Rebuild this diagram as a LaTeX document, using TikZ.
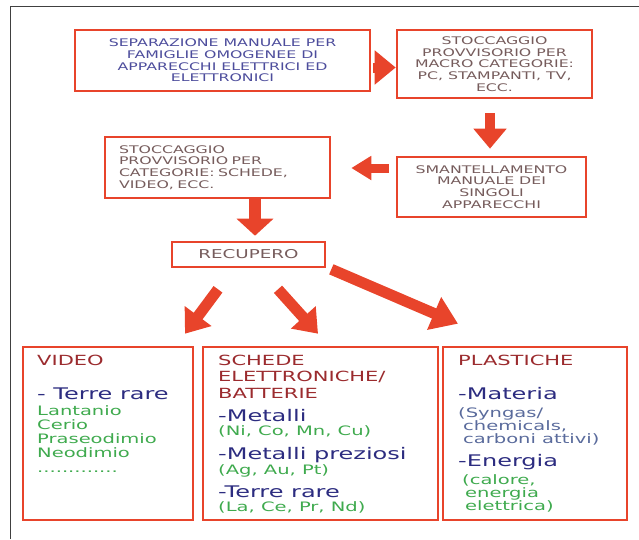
\documentclass[tikz,border=0pt]{standalone}
\usepackage{fontspec}
\usepackage{xcolor}
\usepackage{tikz}
\usetikzlibrary{arrows.meta}
\usetikzlibrary{calc}
\usetikzlibrary{positioning}

\newfontfamily\vfont[FakeStretch=1.5]{DejaVu Sans}
\definecolor{boxred}{HTML}{E8442B}
\definecolor{slateblue}{HTML}{4D4D9C}
\definecolor{taupe}{HTML}{765C5C}
\definecolor{darkred}{HTML}{9B2B2E}
\definecolor{navy}{HTML}{2C2C80}
\definecolor{leafgreen}{HTML}{3FAA4E}
\definecolor{greyblue}{HTML}{5A6B9C}

\begin{document}
\begin{tikzpicture}[x=1pt,y=-1pt,
    main node/.style={rectangle,draw=boxred,line width=2.6pt,inner sep=0pt,align=center,text=taupe,font=\vfont\fontsize{10.5}{11.7}\selectfont},
    big arrow/.style={draw=boxred,line width=10pt},
    title text/.style={anchor=base west,inner sep=0pt,align=left,text=darkred,font=\vfont\fontsize{14}{16.5}\selectfont},
    item text/.style={anchor=base west,inner sep=0pt,align=left,text=navy,font=\vfont\fontsize{16}{18}\selectfont},
    note text/.style={anchor=base west,inner sep=0pt,align=left,text=leafgreen,font=\vfont\fontsize{13}{14.2}\selectfont}]

    \useasboundingbox (0,0) rectangle (639,539);
    \draw[line width=0.8pt,black!75] (10,539) -- (10,6) -- (639,6);

    \node[main node,minimum width=295,minimum height=61,text=slateblue] (separation) at (222.5,60.5) {SEPARAZIONE MANUALE PER\\FAMIGLIE OMOGENEE DI\\APPARECCHI ELETTRICI ED\\ELETTRONICI};
    \node[main node,minimum width=195,minimum height=68] (stock-macro) at (494.5,64) {STOCCAGGIO\\PROVVISORIO PER\\MACRO CATEGORIE:\\PC, STAMPANTI, TV,\\ECC.};
    \node[main node,minimum width=189,minimum height=60] (dismantle) at (491.5,187) {SMANTELLAMENTO\\MANUALE DEI\\SINGOLI\\APPARECCHI};
    \node[main node,minimum width=225,minimum height=61,text width=197pt,align=left] (stock-cat) at (217.5,167.5) {STOCCAGGIO\\PROVVISORIO PER\\CATEGORIE: SCHEDE,\\VIDEO, ECC.};
    \node[main node,minimum width=153,minimum height=25,font=\vfont\fontsize{12.2}{14}\selectfont] (recovery) at (248.5,254.5) {RECUPERO};

    \node[main node,minimum width=170,minimum height=173] (video) at (108,433.5) {};
    \node[main node,minimum width=235,minimum height=173] (boards) at (320.5,433.5) {};
    \node[main node,minimum width=184,minimum height=173] (plastics) at (535,433.5) {};

    \node[title text] (video-title) at (37,365) {VIDEO};
    \node[item text] (video-rare) at (37,399) {- Terre rare};
    \node[note text] (video-list) at (37,472) {Lantanio\\Cerio\\Praseodimio\\Neodimio\\.............};

    \node[title text] (boards-title) at (218,398) {SCHEDE\\ELETTRONICHE/\\BATTERIE};
    \node[item text] (boards-metals) at (218,421) {-Metalli};
    \node[note text] (boards-metals-list) at (218,435.5) {(Ni, Co, Mn, Cu)};
    \node[item text] (boards-precious) at (218,459) {-Metalli preziosi};
    \node[note text] (boards-precious-list) at (218,474) {(Ag, Au, Pt)};
    \node[item text] (boards-rare) at (218,497) {-Terre rare};
    \node[note text] (boards-rare-list) at (218,511) {(La, Ce, Pr, Nd)};

    \node[title text] (plastics-title) at (458,365) {PLASTICHE};
    \node[item text] (plastics-matter) at (458,399) {-Materia};
    \node[note text,text=greyblue,font=\vfont\fontsize{13}{13}\selectfont] (plastics-matter-list) at (458,443) {(Syngas/\\\hspace*{5pt}chemicals,\\\hspace*{5pt}carboni attivi)};
    \node[item text] (plastics-energy) at (458,466) {-Energia};
    \node[note text,font=\vfont\fontsize{13}{13}\selectfont] (plastics-energy-list) at (462,510) {(calore,\\\hspace*{3pt}energia\\\hspace*{3pt}elettrica)};

    \path[big arrow,-{Triangle[width=33pt,length=21pt]}]
    ([shift={(2,7)}]separation.east) -- ([shift={(0,3.5)}]stock-macro.west);

    \path[big arrow,-{Triangle[width=32pt,length=20pt]}]
    ([shift={(-4.5,14)}]stock-macro.south) -- ([shift={(-1.5,-7)}]dismantle.north);

    \path[big arrow,line width=9pt,-{Triangle[width=23pt,length=20pt]}]
    ([shift={(-7,-19)}]dismantle.west) -- ([shift={(20,0.5)}]stock-cat.east);

    \path[big arrow,line width=12pt,-{Triangle[width=36pt,length=17pt]}]
    ([shift={(37.5,0)}]stock-cat.south) -- ([shift={(6.5,-5)}]recovery.north);

    \path[big arrow,line width=11pt,-{Triangle[width=32pt,length=22pt]}]
    ([shift={(-30.5,21)}]recovery.south) -- ([shift={(77,-12)}]video.north);

    \path[big arrow,line width=11pt,-{Triangle[width=32pt,length=22pt]}]
    ([shift={(29.5,21)}]recovery.south) -- ([shift={(-2.5,-12)}]boards.north);

    \path[big arrow,line width=11pt,-{Triangle[width=34pt,length=26pt]}]
    ([shift={(5,1)}]recovery.south east) -- ([shift={(-77,-22)}]plastics.north);

\end{tikzpicture}
\end{document}
